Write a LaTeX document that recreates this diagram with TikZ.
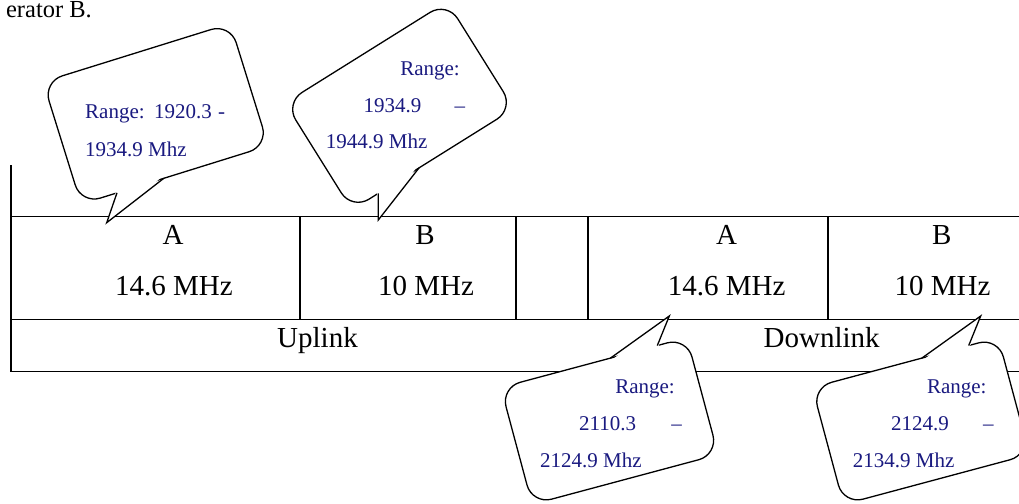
\documentclass[tikz,border=0pt]{standalone}
\usepackage{fontspec}
\setmainfont{Liberation Serif}
\definecolor{navytext}{HTML}{1A1A80}
\begin{document}
\begin{tikzpicture}[x=1bp,y=-1bp,
  tline/.style={line width=1.8bp, line cap=rect},
  bubble/.style={draw=black, fill=white, line width=1.3bp, rounded corners=20bp},
  tailline/.style={draw=black, line width=1.3bp, line join=miter},
  celltext/.style={font=\fontsize{29bp}{34bp}\selectfont, inner sep=0pt},
  bubtext/.style={font=\fontsize{21bp}{25bp}\selectfont, text=navytext, inner sep=0pt},
]
\useasboundingbox (0,0) rectangle (1019,504);
\clip (0,0) rectangle (1019,504);

% header fragment
\node[anchor=base east, font=\fontsize{24.5bp}{28bp}\selectfont, inner sep=0pt] (hdr) at (92,17.3) {erator B.};

% table frame
\coordinate (top0) at (11,166);
\coordinate (rowA) at (11,216.5);
\coordinate (rowB) at (11,319.5);
\coordinate (rowC) at (11,371.5);
\draw[tline] (top0) -- (rowC);
\draw[tline] (rowA) -- ++(1020,0);
\draw[tline] (rowB) -- ++(1020,0);
\draw[tline] (rowC) -- ++(1020,0);
\foreach \xx in {300,516,588,828}{
  \draw[tline] (\xx,216.5) -- (\xx,319.5);
}

% cell texts
\node[celltext, anchor=base] (ulA)  at (173,245)   {A};
\node[celltext, anchor=base] (ulAw) at (174,295.7) {14.6 MHz};
\node[celltext, anchor=base] (ulB)  at (425,245)   {B};
\node[celltext, anchor=base] (ulBw) at (426,295.7) {10 MHz};
\node[celltext, anchor=base] (dlA)  at (726.7,245) {A};
\node[celltext, anchor=base] (dlAw) at (726.7,295.7) {14.6 MHz};
\node[celltext, anchor=base] (dlB)  at (941.7,245) {B};
\node[celltext, anchor=base] (dlBw) at (942.5,295.7) {10 MHz};
\node[celltext, anchor=base] (up)   at (317.5,348) {Uplink};
\node[celltext, anchor=base] (down) at (821.7,348) {Downlink};

% callout tips
\coordinate (tip1) at (106.7,222.7);
\coordinate (tip2) at (378.3,220);
\coordinate (tip3) at (669.3,316);
\coordinate (tip4) at (980.7,316);

% callout 1
\begin{scope}[shift={(155.7,113.8)}, rotate=17.3]
  \draw[bubble] (-98,-64) rectangle (98,64);
  \fill[white] (-11.4,61.5) -- (tip1) -- (-60.5,61.5) -- cycle;
  \draw[tailline] (-11.4,64) -- (tip1) -- (-60.5,64);
\end{scope}
% callout 2
\begin{scope}[shift={(399.5,105.8)}, rotate=32]
  \draw[bubble] (-95.5,-63) rectangle (95.5,63);
  \fill[white] (-16.3,60.5) -- (tip2) -- (-64.4,60.5) -- cycle;
  \draw[tailline] (-16.3,63) -- (tip2) -- (-64.4,63);
\end{scope}
% callout 3
\begin{scope}[shift={(609.5,421)}, rotate=15]
  \draw[bubble] (-96.25,-60.5) rectangle (96.25,60.5);
  \fill[white] (17.2,-58) -- (tip3) -- (65.7,-58) -- cycle;
  \draw[tailline] (17.2,-60.5) -- (tip3) -- (65.7,-60.5);
\end{scope}
% callout 4
\begin{scope}[shift={(920.9,421)}, rotate=15]
  \draw[bubble] (-96.25,-60.5) rectangle (96.25,60.5);
  \fill[white] (17.2,-58) -- (tip4) -- (65.7,-58) -- cycle;
  \draw[tailline] (17.2,-60.5) -- (tip4) -- (65.7,-60.5);
\end{scope}

% callout texts
\node[bubtext, anchor=base west] (c1a) at (85,119)   {\makebox[140bp][s]{Range: 1920.3 -}};
\node[bubtext, anchor=base west] (c1b) at (85,156.7) {1934.9 Mhz};

\node[bubtext, anchor=base east] (c2a) at (460,76)      {Range:};
\node[bubtext, anchor=base west] (c2b) at (363.3,112.3) {\makebox[101.7bp][l]{1934.9\hfill –}};
\node[bubtext, anchor=base west] (c2c) at (325.7,148.3) {1944.9 Mhz};

\node[bubtext, anchor=base east] (c3a) at (675,393.3) {Range:};
\node[bubtext, anchor=base west] (c3b) at (579,430)   {\makebox[102.7bp][l]{2110.3\hfill –}};
\node[bubtext, anchor=base west] (c3c) at (540,467.3) {2124.9 Mhz};

\node[bubtext, anchor=base east] (c4a) at (986.7,393.3) {Range:};
\node[bubtext, anchor=base west] (c4b) at (891,430)     {\makebox[102.3bp][l]{2124.9\hfill –}};
\node[bubtext, anchor=base west] (c4c) at (852.7,467.3) {2134.9 Mhz};
\end{tikzpicture}
\end{document}
